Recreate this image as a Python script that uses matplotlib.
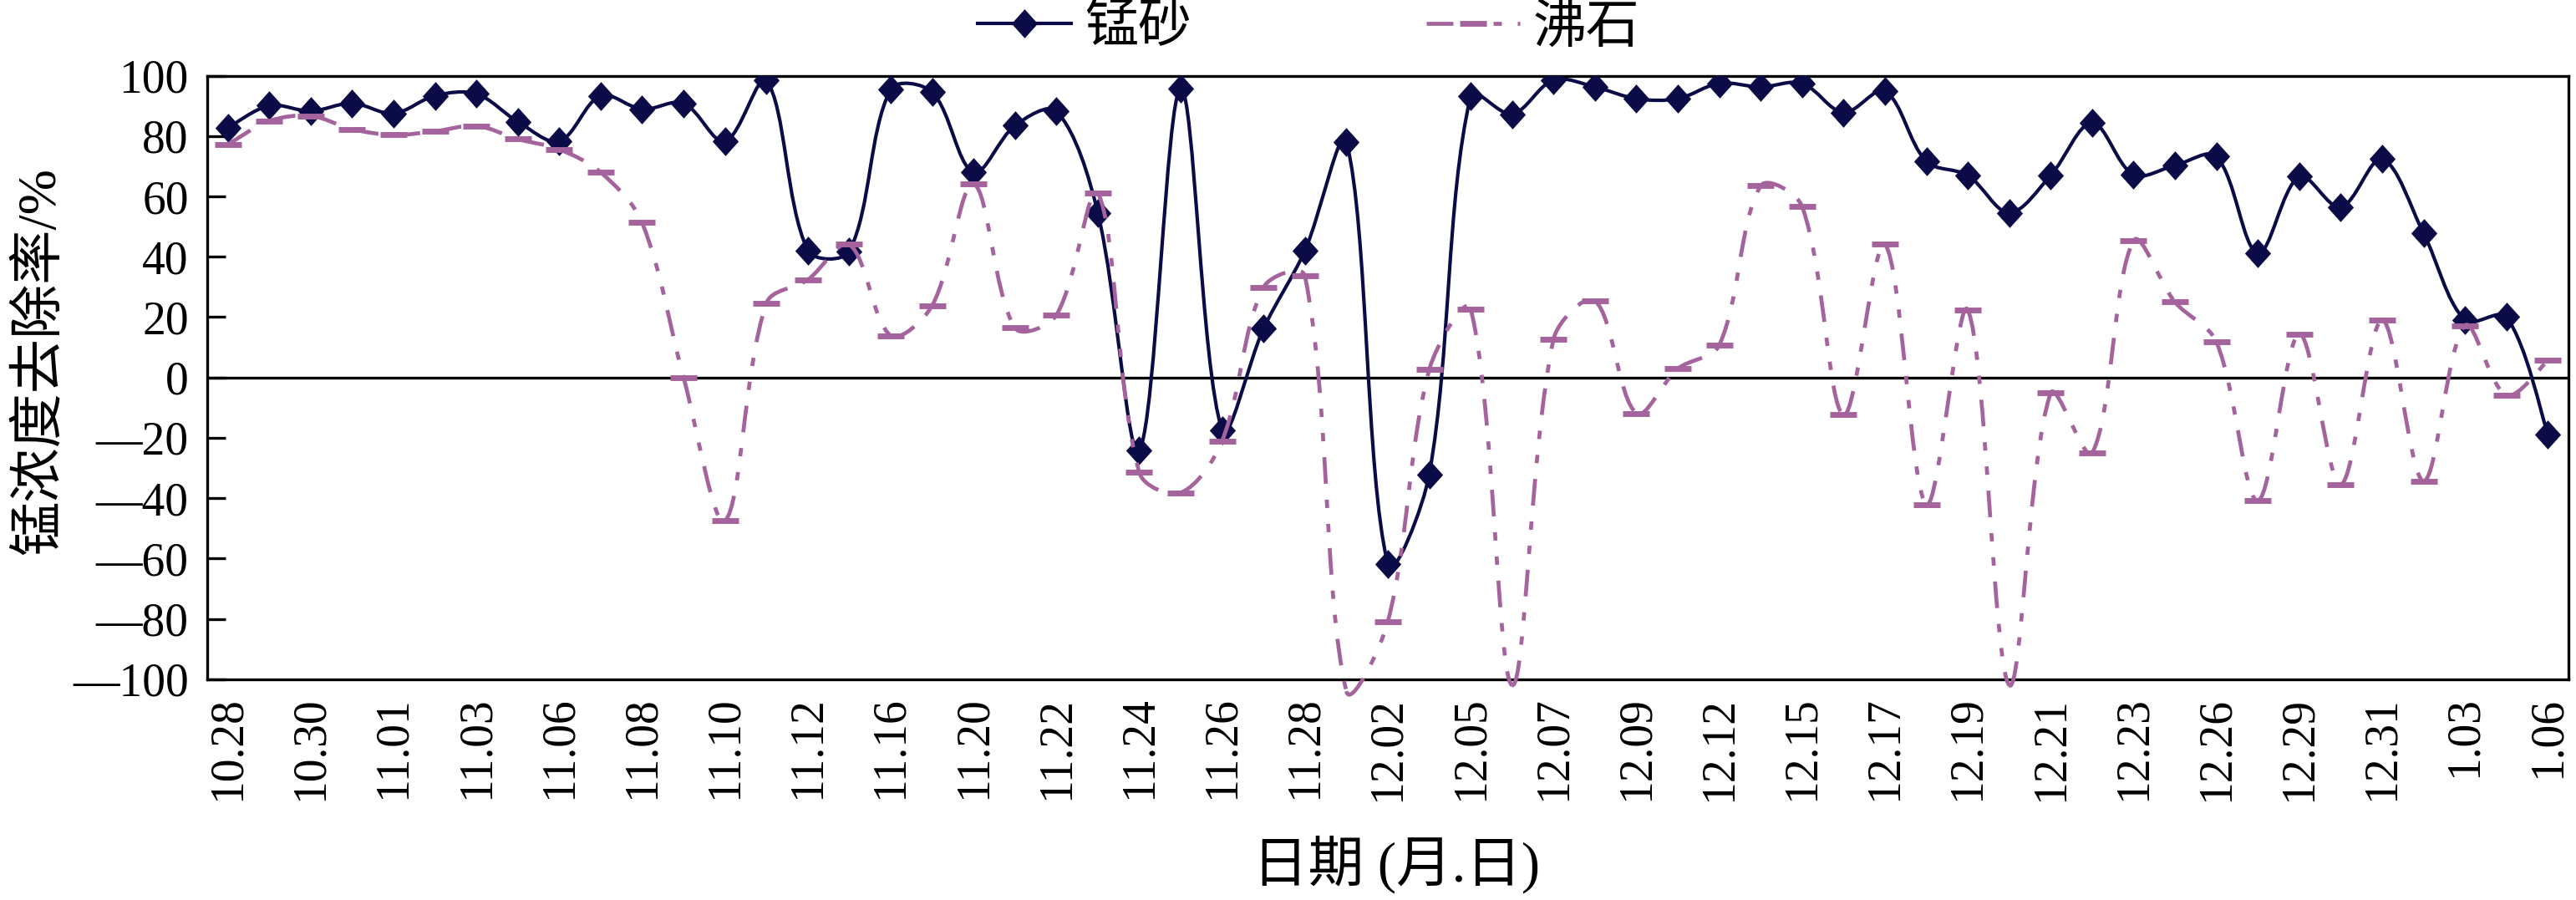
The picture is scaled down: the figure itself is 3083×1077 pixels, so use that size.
import matplotlib
matplotlib.use("Agg")
import matplotlib.pyplot as plt
from matplotlib.path import Path
from matplotlib.patches import PathPatch
from matplotlib.lines import Line2D
import numpy as np

dates = ["10.28", "10.30", "11.01", "11.03", "11.06", "11.08", "11.10", "11.12",
         "11.16", "11.20", "11.22", "11.24", "11.26", "11.28", "12.02", "12.05",
         "12.07", "12.09", "12.12", "12.15", "12.17", "12.19", "12.21", "12.23",
         "12.26", "12.29", "12.31", "1.03", "1.06"]

# 锰砂 removal rate (%)
mn_sand = [82.7, 90.1, 88.3, 90.9, 87.5, 93.4, 94.0, 84.8, 78.3, 93.4,
           88.9, 90.9, 78.2, 98.4, 42.1, 41.8, 95.5, 94.6, 68.0, 83.5,
           88.3, 54.6, -24.2, 95.7, -17.4, 16.2, 42.1, 78.1, -61.8, -32.2,
           93.4, 87.3, 98.6, 96.3, 92.4, 92.4, 97.5, 96.3, 97.5, 87.8,
           94.9, 71.6, 67.0, 54.6, 67.0, 84.4, 67.2, 70.3, 73.3, 41.2,
           66.6, 56.4, 72.4, 47.8, 19.0, 20.1, -18.8]

# 沸石 removal rate (%)
zeolite = [77.2, 85.0, 86.7, 82.3, 80.4, 81.6, 83.4, 79.0, 75.6, 68.0,
           51.3, 0.0, -47.5, 24.6, 32.4, 44.1, 13.9, 23.8, 64.1, 16.4,
           20.7, 61.2, -31.5, -38.2, -21.0, 29.9, 33.6, -104.0, -81.0, 2.6,
           22.7, -102.0, 12.7, 25.5, -11.9, 2.9, 10.7, 63.5, 56.7, -12.4,
           44.1, -42.1, 22.4, -102.0, -5.2, -25.1, 45.3, 25.0, 11.8, -40.8,
           14.4, -35.5, 19.0, -34.3, 17.2, -5.9, 5.6]

y_ticks = [100, 80, 60, 40, 20, 0, -20, -40, -60, -80, -100]
y_tick_labels = ["100", "80", "60", "40", "20", "0",
                 "\u201420", "\u201440", "\u201460", "\u201480", "\u2014100"]

navy = "#0b0b48"
mauve = "#a5639d"

plt.rcParams["font.family"] = ["Liberation Serif", "Noto Sans CJK SC", "DejaVu Sans"]
plt.rcParams["lines.scale_dashes"] = False

# pixel size of one x step / one y unit, used so the smoothing works like excel's
PX_X = 49.6
PX_Y = 3.61


def bezier_segments(xs, ys):
    # tangent parallel to neighbours, handle length split by segment lengths
    n = len(xs)
    P = np.column_stack([np.asarray(xs, float) * PX_X, np.asarray(ys, float) * PX_Y])
    d = np.hypot(*(P[1:] - P[:-1]).T)
    out_h = np.zeros_like(P)
    in_h = np.zeros_like(P)
    for i in range(n):
        if i == 0:
            out_h[i] = (P[1] - P[0]) / 6
        elif i == n - 1:
            in_h[i] = (P[i] - P[i - 1]) / 6
        else:
            T = P[i + 1] - P[i - 1]
            dp, dn = d[i - 1], d[i]
            out_h[i] = T * dn / (dp + dn) / 3
            in_h[i] = T * dp / (dp + dn) / 3
    segs = []
    for i in range(n - 1):
        pts = [P[i], P[i] + out_h[i], P[i + 1] - in_h[i + 1], P[i + 1]]
        segs.append([(p[0] / PX_X, p[1] / PX_Y) for p in pts])
    return segs


x = np.arange(len(mn_sand))
diamond = [(0, 1), (0.9, 0), (0, -1), (-0.9, 0)]

fig = plt.figure(figsize=(30.83, 10.77), dpi=100)
ax = fig.add_axes([0.0804, 0.2454, 0.9167, 0.6704])

# 锰砂: one smooth solid path
segs = bezier_segments(x, mn_sand)
verts = [segs[0][0]]
codes = [Path.MOVETO]
for s in segs:
    verts += s[1:]
    codes += [Path.CURVE4] * 3
ax.add_patch(PathPatch(Path(verts, codes), fill=False, edgecolor=navy,
                       lw=3.0, zorder=2))
ax.plot(x, mn_sand, ls="none", marker=diamond, ms=25, color=navy, mew=0, zorder=3)

# 沸石: dash pattern restarts on every segment
dash = (0, (23, 13.7, 7.2, 13.7, 7.2, 13.7))
for s in bezier_segments(x, zeolite):
    p = Path(s, [Path.MOVETO, Path.CURVE4, Path.CURVE4, Path.CURVE4])
    ax.add_patch(PathPatch(p, fill=False, edgecolor=mauve, lw=3.4,
                           linestyle=dash, capstyle="butt", zorder=4,
                           clip_on=False))
ax.plot(x, zeolite, ls="none", marker="_", ms=23, mew=5, color=mauve, zorder=5)

ax.axhline(0, color="black", lw=2.4, zorder=1)

ax.set_xlim(-0.5, len(mn_sand) - 0.5)
ax.set_ylim(-100, 100)
ax.set_xticks(x[::2])
ax.set_xticklabels(dates, rotation=90, fontsize=40)
ax.set_yticks(y_ticks)
ax.set_yticklabels(y_tick_labels, fontsize=40)
ax.tick_params(axis="x", length=0, pad=15)
ax.tick_params(axis="y", direction="in", length=16, width=2.4, pad=16)
for sp in ax.spines.values():
    sp.set_linewidth(2.4)

ax.set_ylabel("锰浓度去除率/%", fontsize=47)
ax.yaxis.set_label_coords(-0.06, 0.527)
ax.set_xlabel("日期 (月.日)", fontsize=48)
ax.xaxis.set_label_coords(0.5035, -0.258)

handles = [
    Line2D([], [], color=navy, lw=3.0, marker=diamond, ms=25, mew=0),
    Line2D([], [], color=mauve, lw=3.4, ls=dash, dash_capstyle="butt",
           marker="_", ms=23, mew=5),
]
fig.legend(handles, ["锰砂", "沸石"], loc="center", bbox_to_anchor=(0.508, 0.9675),
           ncol=2, frameon=False, fontsize=46, handlelength=1.75,
           columnspacing=4.4, handletextpad=0.25)

fig.savefig("out.png", dpi=100)
